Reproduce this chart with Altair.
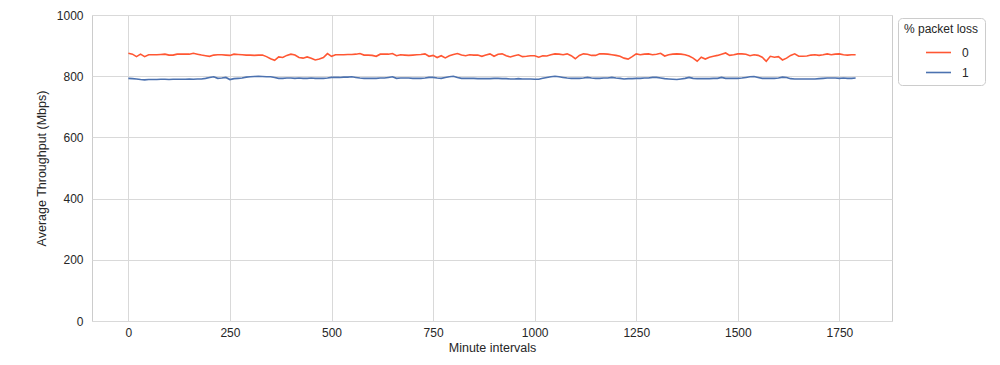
import altair as alt
import pandas as pd

# x positions (minute intervals)
minutes = list(range(0, 1800, 10))

loss_0 = [
    875, 872, 864, 872, 864, 870, 870, 870, 871, 872,
    869, 869, 872, 872, 872, 872, 875, 872, 869, 867,
    865, 869, 870, 870, 869, 868, 872, 871, 870, 869,
    869, 868, 869, 869, 864, 857, 852, 863, 861, 868,
    872, 869, 861, 859, 863, 859, 853, 856, 861, 874,
    865, 870, 870, 870, 871, 871, 872, 874, 869, 869,
    868, 865, 872, 872, 872, 874, 867, 870, 869, 868,
    869, 870, 871, 873, 865, 868, 861, 867, 860, 867,
    871, 874, 869, 867, 870, 869, 869, 865, 869,
    873, 865, 872, 873, 867, 863, 867, 870, 864, 865,
    867, 867, 862, 867, 866, 870, 873, 872, 870, 873,
    867, 857, 868, 873, 872, 868, 868, 873, 873, 872,
    870, 868, 865, 859, 856, 864, 873, 870, 872, 873,
    870, 872, 875, 866, 870, 872, 873, 872, 870, 866,
    859, 849, 862, 856, 862, 865, 868, 872, 876, 868,
    870, 873, 873, 872, 867, 870, 868, 862, 849, 865,
    862, 864, 853, 859, 868, 873, 865, 865, 866, 869,
    870, 868, 870, 873, 870, 872, 873, 870, 869, 870,
    870,
]

loss_1 = [
    793, 792, 791, 789, 788, 789, 789, 789, 790, 790,
    789, 790, 790, 790, 790, 791, 790, 791, 791, 793,
    796, 798, 793, 794, 796, 789, 792, 793, 794, 797,
    798, 799, 800, 799, 798, 798, 796, 793, 793, 794,
    794, 793, 794, 793, 793, 794, 793, 793, 793, 794,
    796, 796, 796, 797, 797, 798, 796, 794, 793, 793,
    793, 793, 794, 794, 796, 798, 793, 794, 794, 794,
    793, 793, 793, 794, 796, 796, 794, 793, 796, 798,
    800, 796, 793, 793, 793, 793, 792, 792, 792,
    792, 793, 793, 792, 792, 791, 791, 792, 791, 791,
    791, 790, 790, 793, 796, 798, 800, 798, 796, 794,
    793, 793, 793, 794, 796, 794, 793, 793, 794, 794,
    796, 794, 793, 791, 792, 792, 793, 793, 794, 794,
    796, 796, 794, 792, 791, 790, 789, 791, 793, 796,
    793, 792, 792, 792, 792, 793, 793, 796, 793, 793,
    793, 793, 794, 796, 798, 799, 796, 793, 793, 793,
    793, 794, 797, 796, 792, 791, 791, 791, 791, 791,
    791, 792, 793, 794, 794, 794, 793, 794, 793, 793,
    794,
]

loss_labels = ["0", "1"]
line_colors = ["#ff5733", "#4c72b0"]

n = min(len(minutes), len(loss_0), len(loss_1))
df = pd.DataFrame({
    "minute": minutes[:n] * 2,
    "throughput": loss_0[:n] + loss_1[:n],
    "loss": [loss_labels[0]] * n + [loss_labels[1]] * n,
})

x_ticks = [0, 250, 500, 750, 1000, 1250, 1500, 1750]
y_ticks = [0, 200, 400, 600, 800, 1000]

font = "Liberation Sans"
text_color = "#262626"

chart = alt.Chart(df).mark_line(strokeWidth=1.6).encode(
    x=alt.X(
        "minute:Q",
        title="Minute intervals",
        scale=alt.Scale(domain=[-89.5, 1879.5], nice=False, zero=False),
        axis=alt.Axis(values=x_ticks, format="d", labelPadding=6, titlePadding=3),
    ),
    y=alt.Y(
        "throughput:Q",
        title="Average Throughput (Mbps)",
        scale=alt.Scale(domain=[0, 1000], nice=False),
        axis=alt.Axis(values=y_ticks, format="d", labelPadding=9, titlePadding=8),
    ),
    color=alt.Color(
        "loss:N",
        title="% packet loss",
        scale=alt.Scale(domain=loss_labels, range=line_colors),
        legend=alt.Legend(
            orient="none",
            legendX=806,
            legendY=3,
            symbolType="stroke",
            symbolStrokeWidth=1.6,
            symbolSize=625,
            symbolOffset=12,
            labelOffset=10,
            fillColor="white",
            strokeColor="#cccccc",
            cornerRadius=4,
            padding=6,
            titleFontSize=12,
            titleFontWeight="normal",
            titlePadding=3,
            labelFontSize=12,
            titleAnchor="middle",
            rowPadding=0,
        ),
    ),
).properties(
    width=800,
    height=306,
    autosize=alt.AutoSizeParams(type="none"),
    padding={"left": 92, "top": 15, "right": 108, "bottom": 44},
).configure(
    background="white",
    font=font,
).configure_view(
    stroke="#cccccc",
    strokeWidth=1,
).configure_axis(
    grid=True,
    gridColor="#d9d9d9",
    gridWidth=1,
    domain=False,
    ticks=False,
    labelFont=font,
    labelFontSize=12,
    labelColor=text_color,
    titleFont=font,
    titleFontSize=12.5,
    titleFontWeight="normal",
    titleColor=text_color,
).configure_legend(
    labelFont=font,
    titleFont=font,
    labelColor=text_color,
    titleColor=text_color,
)

chart.save("out.html", embed_options={"renderer": "svg", "actions": False})
